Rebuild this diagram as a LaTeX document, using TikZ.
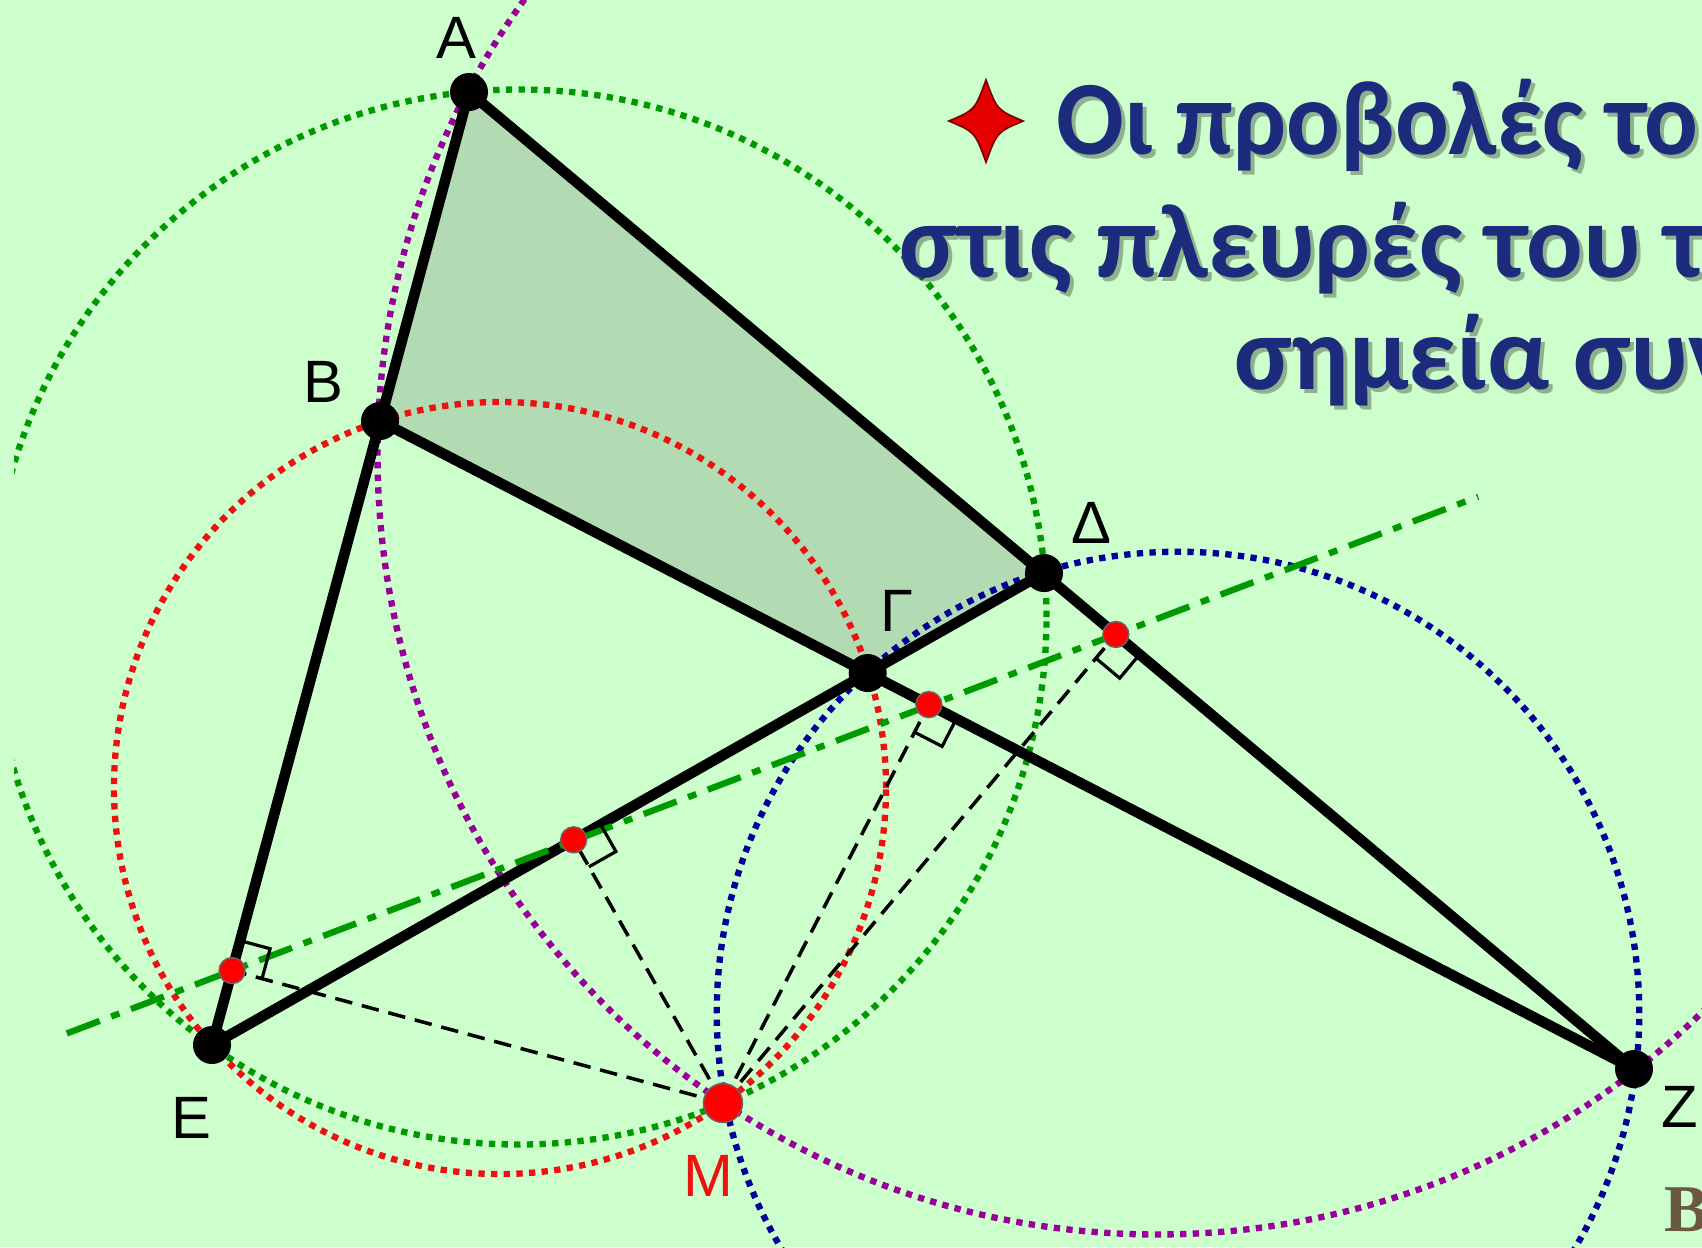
\documentclass[tikz,border=0pt]{standalone}
\usepackage{fontspec}
\setmainfont{Liberation Sans}
\newfontfamily\grfont{Carlito}
\newfontfamily\sgfont{Liberation Serif}
\usetikzlibrary{calc}
\definecolor{bgc}{HTML}{CCFFCC}
\definecolor{quadc}{HTML}{B3DBB3}
\definecolor{grc}{HTML}{009900}
\definecolor{rdc}{HTML}{EE1111}
\definecolor{puc}{HTML}{990099}
\definecolor{blc}{HTML}{000099}
\definecolor{txc}{HTML}{1C2B7C}
\definecolor{brc}{HTML}{6B5840}
\tikzset{
  ln/.style={line width=3pt,line cap=round},
  crc/.style={line width=1.8pt,dash pattern=on 1.8pt off 1.8pt},
  sim/.style={grc,line width=1.8pt,dash pattern=on 10pt off 3.5pt on 2.5pt off 3.5pt},
  prj/.style={line width=1pt,dash pattern=on 5pt off 2.8pt},
  ra/.style={line width=0.9pt},
  vx/.style={circle,fill=black,minimum size=3.8mm,inner sep=0pt},
  ft/.style={circle,fill=red,draw=black!60,line width=0.4pt,minimum size=2.6mm,inner sep=0pt},
  lb/.style={font=\fontsize{17}{17}\selectfont},
  gr/.style={font=\grfont\bfseries\fontsize{30}{34}\selectfont,anchor=base west}
}
\begin{document}
\begin{tikzpicture}[x=0.01cm,y=-0.01cm]
\fill[bgc] (0,0) rectangle (1702,1247);
\clip (0,0) rectangle (1702,1247);

\coordinate (A) at (469,92);
\coordinate (B) at (380,421);
\coordinate (E) at (212,1045);
\coordinate (D) at (1044,573);
\coordinate (Z) at (1634,1069);
\coordinate (G) at (intersection of B--Z and E--D);
\coordinate (M) at (723,1103);
\coordinate (P1) at ($(A)!(M)!(E)$);
\coordinate (P2) at ($(E)!(M)!(D)$);
\coordinate (P3) at ($(B)!(M)!(Z)$);
\coordinate (P4) at ($(A)!(M)!(Z)$);
\coordinate (S1) at ($(P1)!-0.187!(P4)$);
\coordinate (S2) at ($(P1)!1.41!(P4)$);

\fill[quadc] (A) -- (B) -- (G) -- (D) -- cycle;

\begin{scope}
\clip (14,0) rectangle (1702,1247);
\draw[crc,puc] (1157,455) circle[radius=7.79cm];
\draw[crc,grc] (519,617) circle[radius=5.272cm];
\draw[crc,rdc] (500,788) circle[radius=3.858cm];
\draw[crc,blc] (1178,1013) circle[radius=4.61cm];
\end{scope}

\foreach \p in {P1,P2,P3,P4}
  \draw[prj] (M) -- (\p);
\draw[ln] (A) -- (E);
\draw[ln] (A) -- (Z);
\draw[ln] (B) -- (Z);
\draw[ln] (E) -- (D);
\draw[sim] (S1) -- (S2);
\foreach \p/\q in {P1/A,P2/D,P3/Z,P4/Z}
  \draw[ra] ($(\p)!0.31cm!(\q)$) -- ($(\p)!0.31cm!(\q)+(\p)!0.31cm!(M)-(\p)$) -- ($(\p)!0.31cm!(M)$);

\foreach \p in {A,B,G,D,E,Z}
  \node[vx] (d\p) at (\p) {};
\foreach \p in {P1,P2,P3,P4}
  \node[ft] (d\p) at (\p) {};
\node[ft,minimum size=3.9mm] (dM) at (M) {};

\node[lb] (lA) at (456,38) {Α};
\node[lb] (lB) at (323,382) {Β};
\node[lb] (lG) at (897,611) {Γ};
\node[lb] (lD) at (1091,523) {Δ};
\node[lb] (lE) at (191,1118) {Ε};
\node[lb] (lZ) at (1680,1107) {Ζ};
\node[lb,rdc] (lM) at (708,1176) {Μ};

% title
\fill[red!90!black,draw=red!50!black,line width=0.5pt,shift={(986,121)}]
  (0,-41) .. controls (11,-11) .. (37,0) .. controls (11,11) .. (0,41)
  .. controls (-11,11) .. (-37,0) .. controls (-11,-11) .. (0,-41) -- cycle;
\foreach \t/\x/\y/\s/\n in {{Οι προβολές του}/1044/154/0.95/t1,{στις πλευρές του τα}/887/277/1/t2,{σημεία συνευ}/1222/389/1/t3}{
  \node[gr,black,opacity=0.3] (\n s) at (\x+4,\y+4) {\scalebox{\s}[1]{\t}};
  \node[gr,txc] (\n) at (\x,\y) {\scalebox{\s}[1]{\t}};
}
\node[font=\sgfont\bfseries\fontsize{19}{19}\selectfont,brc,anchor=base west] (sig) at (1652,1231) {Βε};
\end{tikzpicture}
\end{document}
